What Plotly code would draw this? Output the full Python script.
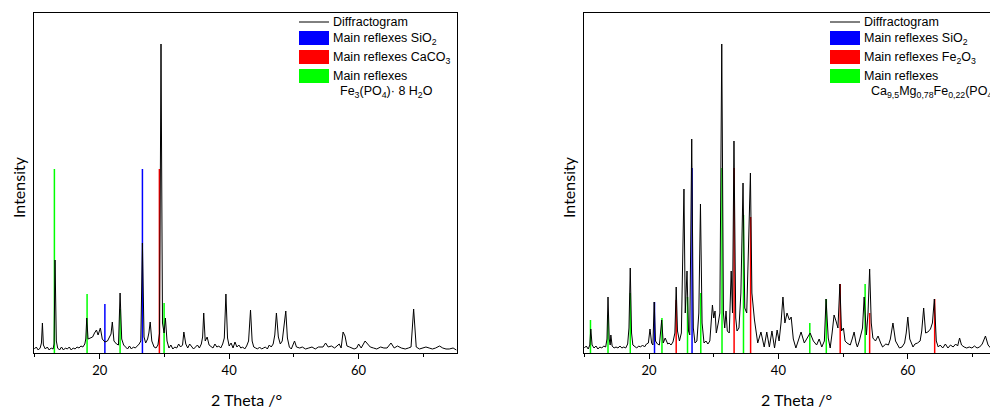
import plotly.graph_objects as go

# ---------------- data: left panel ----------------
left_theta = [9.9, 10.2, 10.5, 10.8, 11.0, 11.15, 11.3, 11.6, 11.9, 12.2, 12.5, 12.8, 12.95, 13.1, 13.3, 13.5,
              13.8, 14.1, 14.4, 14.7, 15.0, 15.3, 15.6, 15.9, 16.2, 16.5, 16.8, 17.1, 17.4, 17.7, 17.85, 18.0,
              18.2, 18.5, 18.9, 19.2, 19.5, 19.75, 20.1, 20.4, 20.8, 21.2, 21.5, 21.75, 21.95, 22.2, 22.6, 22.9,
              23.15, 23.4, 23.7, 24.0, 24.3, 24.6, 24.9, 25.2, 25.5, 25.8, 26.1, 26.35, 26.6, 26.85, 27.1, 27.4,
              27.6, 27.8, 28.05, 28.4, 28.7, 29.0, 29.25, 29.47, 29.7, 29.95, 30.15, 30.4, 30.7, 31.0, 31.3,
              31.6, 31.9, 32.2, 32.5, 32.8, 33.0, 33.3, 33.6, 33.9, 34.2, 34.5, 34.8, 35.1, 35.4, 35.7, 35.9,
              36.07, 36.3, 36.6, 36.9, 37.2, 37.5, 37.8, 38.1, 38.4, 38.7, 39.0, 39.25, 39.5, 39.75, 40.0, 40.3,
              40.6, 40.9, 41.2, 41.5, 41.8, 42.1, 42.4, 42.7, 43.0, 43.3, 43.55, 43.8, 44.1, 44.4, 44.7, 45.0,
              45.3, 45.6, 45.9, 46.2, 46.5, 46.8, 47.05, 47.3, 47.6, 47.9, 48.2, 48.45, 48.75, 49.0, 49.3, 49.6,
              49.9, 50.1, 50.4, 50.9, 51.3, 51.8, 52.3, 52.8, 53.3, 53.8, 54.5, 54.9, 55.3, 55.8, 56.3, 57.0,
              57.3, 57.6, 57.9, 58.2, 58.6, 59.3, 59.7, 60.0, 60.4, 61.0, 61.4, 61.8, 62.3, 62.8, 63.4, 63.9,
              64.4, 65.0, 65.5, 66.0, 66.6, 67.2, 67.7, 68.1, 68.5, 68.7, 68.9, 69.4, 69.9, 70.4, 70.9, 71.4,
              71.9, 72.5, 73.0, 73.5, 74.0, 74.6, 75.1]
left_int = [4, 6, 3, 5, 10, 30, 8, 4, 6, 3, 5, 4, 9, 93, 12, 5,
            3, 6, 3, 5, 4, 6, 3, 5, 4, 6, 5, 7, 6, 9, 14, 35,
            14, 15, 16, 20, 23, 18, 25, 14, 11, 12, 16, 19, 31, 12, 9, 8,
            60, 14, 8, 6, 4, 7, 4, 6, 5, 7, 9, 12, 110, 16, 10, 14,
            20, 31, 12, 6, 5, 8, 20, 309, 30, 20, 35, 12, 5, 8, 4,
            6, 5, 9, 6, 8, 21, 9, 5, 9, 7, 4, 6, 8, 5, 9, 16,
            40, 12, 16, 8, 6, 5, 9, 6, 7, 5, 9, 15, 59, 15, 7, 10,
            5, 11, 6, 8, 5, 6, 4, 7, 12, 43, 12, 6, 5, 4, 6, 4,
            5, 6, 4, 8, 6, 9, 18, 40, 16, 9, 12, 26, 42, 15, 6, 4,
            8, 12, 6, 5, 6, 4, 5, 6, 4, 6, 6, 10, 6, 7, 5, 9,
            5, 21, 17, 7, 6, 4, 5, 9, 5, 12, 9, 6, 5, 4, 6, 5,
            5, 10, 5, 7, 5, 4, 5, 6, 44, 23, 6, 4, 5, 6, 5, 4,
            5, 7, 5, 4, 4, 5, 3]

left_sio2_pos = [20.8, 26.6]
left_sio2_h = [49, 184]
left_caco3_pos = [29.22]
left_caco3_h = [184]
left_fe_pos = [13.0, 18.05, 23.15, 29.95]
left_fe_h = [184, 59, 44, 50]

# ---------------- data: right panel ----------------
right_theta = [10.0, 10.3, 10.6, 10.85, 11.0, 11.2, 11.5, 11.8, 12.1, 12.4, 12.7, 13.0, 13.3, 13.5, 13.66, 13.85,
               14.0, 14.1, 14.3, 14.6, 14.9, 15.2, 15.5, 15.8, 16.1, 16.4, 16.7, 16.9, 17.1, 17.3, 17.5, 17.8,
               18.1, 18.4, 18.7, 19.0, 19.3, 19.6, 19.9, 20.15, 20.4, 20.6, 20.8, 21.0, 21.3, 21.6, 21.96, 22.2,
               22.5, 22.7, 22.9, 23.1, 23.4, 23.7, 24.0, 24.2, 24.4, 24.7, 25.0, 25.4, 25.6, 25.87, 26.1, 26.3,
               26.6, 26.85, 27.1, 27.4, 27.7, 27.95, 28.2, 28.5, 28.8, 29.1, 29.4, 29.8, 30.0, 30.2, 30.4, 30.7,
               30.95, 31.24, 31.5, 31.7, 31.9, 32.1, 32.4, 32.7, 32.9, 33.13, 33.4, 33.6, 33.9, 34.2, 34.53, 34.8,
               35.1, 35.35, 35.67, 35.9, 36.1, 36.3, 36.8, 37.3, 37.8, 38.2, 38.6, 39.0, 39.4, 39.8, 40.1, 40.4,
               40.7, 41.0, 41.33, 41.7, 41.97, 42.3, 42.7, 43.1, 43.5, 44.0, 44.4, 44.9, 45.4, 45.9, 46.3, 46.7,
               47.1, 47.36, 47.7, 48.0, 48.3, 48.6, 48.9, 49.2, 49.5, 49.75, 50.05, 50.3, 50.6, 51.1, 51.4, 51.7,
               52.0, 52.2, 52.5, 52.7, 53.0, 53.25, 53.6, 53.85, 54.1, 54.35, 54.6, 55.0, 55.4, 55.8, 56.1, 56.6,
               57.0, 57.3, 57.7, 58.1, 58.7, 59.1, 59.5, 59.75, 60.0, 60.3, 60.8, 61.1, 61.5, 61.9, 62.15, 62.45,
               62.75, 63.1, 63.5, 63.8, 64.1, 64.4, 64.7, 65.0, 65.4, 65.8, 66.2, 66.6, 67.0, 67.4, 67.7, 68.0,
               68.3, 68.7, 69.1, 69.5, 69.9, 70.3, 70.7, 71.1, 71.5, 72.0, 72.4, 72.8, 73.2, 73.6, 74.0, 74.5, 75.0]
right_int = [5, 7, 4, 8, 24, 8, 5, 7, 4, 6, 5, 7, 6, 14, 56, 14,
             8, 18, 7, 5, 6, 5, 7, 5, 6, 5, 9, 25, 85, 20, 8, 6,
             5, 7, 6, 8, 6, 9, 10, 24, 10, 8, 51, 12, 9, 8, 33, 10,
             15, 12, 9, 10, 8, 11, 20, 66, 22, 12, 20, 164, 40, 82, 22, 18,
             214, 25, 10, 12, 40, 149, 30, 10, 12, 9, 12, 48, 35, 42, 20, 30,
             40, 309, 40, 25, 42, 22, 20, 82, 40, 212, 35, 22, 25, 60, 170, 45,
             40, 100, 180, 60, 45, 33, 10, 21, 6, 21, 6, 22, 5, 23, 12, 30,
             56, 30, 40, 33, 36, 14, 5, 14, 21, 10, 14, 20, 12, 8, 14, 6,
             12, 54, 15, 5, 20, 38, 32, 25, 69, 22, 25, 12, 10, 8, 14, 21,
             10, 6, 12, 18, 25, 56, 18, 40, 84, 30, 15, 12, 17, 10, 6, 9,
             8, 14, 30, 12, 5, 6, 10, 20, 36, 14, 6, 9, 10, 12, 22, 45,
             20, 21, 24, 30, 54, 12, 6, 8, 5, 9, 5, 8, 6, 9, 7, 15,
             8, 6, 5, 6, 5, 7, 5, 6, 9, 17, 8, 5, 4, 5, 4, 5, 4]

right_sio2_pos = [20.85, 26.65]
right_sio2_h = [51, 185]
right_fe2o3_pos = [24.2, 33.15, 35.7, 49.55, 54.1, 64.15]
right_fe2o3_h = [53, 185, 136, 69, 40, 54]
right_ca_pos = [10.95, 13.66, 17.1, 22.0, 25.95, 28.0, 31.28, 34.6, 44.85, 47.4, 53.4]
right_ca_h = [33, 38, 60, 35, 56, 60, 185, 138, 30, 54, 69]

BLUE, RED, GREEN = "#0000FF", "#FF0000", "#00FF00"

# the page body adds an 8 px offset; layout numbers below are in screenshot pixels
OFF = 8
W, H = 998, 408 - OFF
L, R, T, B = 34 - OFF, 0, 13 - OFF, 55
PW, PH = W - L - R, H - T - B


def px(x):
    return (x - OFF - L) / PW


def py(y):
    return (H - B - (y - OFF)) / PH


def sticks(pos, h):
    xs, ys = [], []
    for p, v in zip(pos, h):
        xs += [p, p, None]
        ys += [0, v, None]
    return xs, ys


fig = go.Figure()

for (pos, h, col, xa, ya) in [
    (left_fe_pos, left_fe_h, GREEN, "x", "y"),
    (left_sio2_pos, left_sio2_h, BLUE, "x", "y"),
    (left_caco3_pos, left_caco3_h, RED, "x", "y"),
    (right_ca_pos, right_ca_h, GREEN, "x2", "y2"),
    (right_sio2_pos, right_sio2_h, BLUE, "x2", "y2"),
    (right_fe2o3_pos, right_fe2o3_h, RED, "x2", "y2"),
]:
    xs, ys = sticks(pos, h)
    fig.add_trace(go.Scatter(x=xs, y=ys, mode="lines", line=dict(color=col, width=1.5),
                             xaxis=xa, yaxis=ya, showlegend=False, hoverinfo="skip"))

fig.add_trace(go.Scatter(x=left_theta, y=left_int, mode="lines", line=dict(color="black", width=1),
                         xaxis="x", yaxis="y", showlegend=False))
fig.add_trace(go.Scatter(x=right_theta, y=right_int, mode="lines", line=dict(color="black", width=1),
                         xaxis="x2", yaxis="y2", showlegend=False))

AXFONT = dict(family="Lato, Open Sans, sans-serif", size=13, color="black")
TITLEFONT = dict(family="Lato, Open Sans, sans-serif", size=16, color="black")

xcommon = dict(tick0=0, dtick=20, ticks="outside", ticklen=5, tickwidth=1, tickcolor="black",
               minor=dict(dtick=10, ticks="outside", ticklen=3, tickcolor="black"),
               showline=True, linecolor="black", linewidth=1, showgrid=False, zeroline=False,
               tickfont=AXFONT, automargin=False)
ycommon = dict(range=[0, 340], showticklabels=False, ticks="", showline=True, linecolor="black",
               linewidth=1, showgrid=False, zeroline=False, automargin=False)

fig.update_layout(
    width=W, height=H, margin=dict(l=L, r=R, t=T, b=B, autoexpand=False),
    paper_bgcolor="white", plot_bgcolor="white", showlegend=False,
    xaxis=dict(domain=[0, 423 / PW], range=[9.85, 75.2], mirror=True, anchor="y", **xcommon),
    yaxis=dict(domain=[0, 1], mirror=True, anchor="x", **ycommon),
    xaxis2=dict(domain=[550 / PW, 1], range=[9.95, 9.95 + 422 / 6.47], mirror=True, anchor="y2", **xcommon),
    yaxis2=dict(domain=[0, 1], mirror=True, anchor="x2", **ycommon),
)

LEGFONT = dict(family="Liberation Sans, Arial, sans-serif", size=12.5, color="black")


def legend(x0, texts, extra):
    shapes = [dict(type="line", xref="paper", yref="paper", x0=px(x0), x1=px(x0 + 30),
                   y0=py(22), y1=py(22), line=dict(color="black", width=1))]
    for yc, col in [(38, BLUE), (57, RED), (76, GREEN)]:
        shapes.append(dict(type="rect", xref="paper", yref="paper", x0=px(x0), x1=px(x0 + 30),
                           y0=py(yc - 7), y1=py(yc + 7), line=dict(width=0), fillcolor=col))
    anns = []
    for yc, t in zip([22, 39, 58, 76], texts):
        anns.append(dict(text=t, xref="paper", yref="paper", x=px(x0 + 32), y=py(yc),
                         xanchor="left", yanchor="middle", showarrow=False, font=LEGFONT))
    anns.append(dict(text=extra[1], xref="paper", yref="paper", x=px(extra[0]), y=py(92),
                     xanchor="left", yanchor="middle", showarrow=False, font=LEGFONT))
    return shapes, anns


s1, a1 = legend(299, ["Diffractogram", "Main reflexes SiO<sub>2</sub>", "Main reflexes CaCO<sub>3</sub>",
                      "Main reflexes"], (338, "Fe<sub>3</sub>(PO<sub>4</sub>)· 8 H<sub>2</sub>O"))
s2, a2 = legend(830, ["Diffractogram", "Main reflexes SiO<sub>2</sub>", "Main reflexes Fe<sub>2</sub>O<sub>3</sub>",
                      "Main reflexes"],
                (869, "Ca<sub>9,5</sub>Mg<sub>0,78</sub>Fe<sub>0,22</sub>(PO<sub>4</sub>)<sub>7</sub>"))

titles = []
for xc in [18, 568]:
    titles.append(dict(text="Intensity", xref="paper", yref="paper", x=px(xc), y=py(187), textangle=-90,
                       xanchor="center", yanchor="middle", showarrow=False, font=TITLEFONT))
for xc in [246, 796]:
    titles.append(dict(text="2 Theta /°", xref="paper", yref="paper", x=px(xc), y=py(399),
                       xanchor="center", yanchor="middle", showarrow=False, font=TITLEFONT))

fig.update_layout(shapes=s1 + s2, annotations=a1 + a2 + titles)

fig.write_html("out.html")
